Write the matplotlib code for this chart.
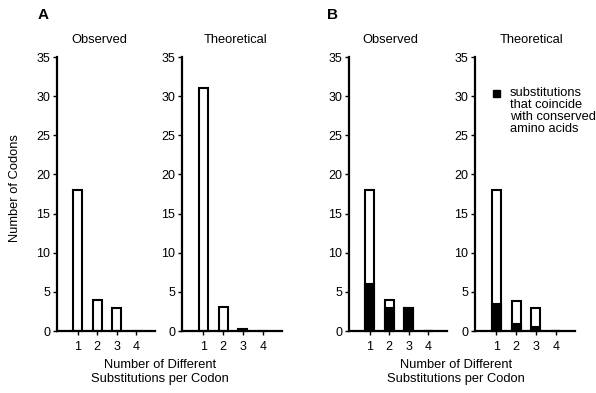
import matplotlib
matplotlib.use("Agg")
import matplotlib.pyplot as plt
from matplotlib.patches import Rectangle

plt.rcParams["font.family"] = ["Liberation Sans", "DejaVu Sans"]

categories = [1, 2, 3, 4]
a_observed = [18, 3.9, 3.0, 0]
a_theoretical = [31, 3.1, 0.3, 0]
b_observed = [18, 3.9, 3.0, 0]
b_observed_conserved = [6, 3.0, 3.0, 0]
b_theoretical = [18, 3.8, 3.0, 0]
b_theoretical_conserved = [3.5, 0.85, 0.55, 0]
y_ticks = [0, 5, 10, 15, 20, 25, 30, 35]

W, H = 596, 393
BAR_W = 0.45
LW = 1.5
FS = 9.3


def px_axes(fig, left, right, top=57, bottom=331):
    return fig.add_axes([left / W, 1 - bottom / H, (right - left) / W, (bottom - top) / H])


def style(ax):
    ax.set_xlim(-0.06, 4.96)
    ax.set_ylim(0, 35)
    ax.set_xticks(categories)
    ax.set_yticks(y_ticks)
    for s in ["top", "right"]:
        ax.spines[s].set_visible(False)
    for s in ["left", "bottom"]:
        ax.spines[s].set_linewidth(1.6)
    ax.tick_params(axis="both", direction="out", length=3, width=1, labelsize=9, pad=2)
    ax.tick_params(axis="x", pad=4)


def bars(ax, totals, conserved=None):
    ax.bar(categories, totals, width=BAR_W, facecolor="white", edgecolor="black",
           linewidth=LW, zorder=2, clip_on=False)
    if conserved is not None:
        ax.bar(categories, conserved, width=BAR_W, facecolor="black", edgecolor="black",
               linewidth=LW, zorder=3, clip_on=False)


fig = plt.figure(figsize=(W / 100, H / 100), dpi=100)

ax1 = px_axes(fig, 57, 155)
ax2 = px_axes(fig, 182, 282)
ax3 = px_axes(fig, 349, 447)
ax4 = px_axes(fig, 475, 575)

bars(ax1, a_observed)
bars(ax2, a_theoretical)
bars(ax3, b_observed, b_observed_conserved)
bars(ax4, b_theoretical, b_theoretical_conserved)

for ax in [ax1, ax2, ax3, ax4]:
    style(ax)

# panel titles
for x, t in [(99, "Observed"), (235, "Theoretical"), (390, "Observed"), (531, "Theoretical")]:
    fig.text(x / W, 1 - 40 / H, t, ha="center", va="center", fontsize=FS)

fig.text(43 / W, 1 - 15 / H, "A", ha="center", va="center", fontsize=11, fontweight="bold")
fig.text(332 / W, 1 - 15 / H, "B", ha="center", va="center", fontsize=11, fontweight="bold")

fig.text(15 / W, 1 - 188 / H, "Number of Codons", rotation=90, ha="center", va="center",
         fontsize=FS)
for x in [160, 456]:
    fig.text(x / W, 1 - 372 / H, "Number of Different\nSubstitutions per Codon",
             ha="center", va="center", fontsize=FS, linespacing=1.15)

# legend
fig.patches.append(Rectangle((493 / W, 1 - 97 / H), 7 / W, 7 / H, transform=fig.transFigure,
                             facecolor="black", edgecolor="black"))
fig.text(510 / W, 1 - 87 / H, "substitutions\nthat coincide\nwith conserved\namino acids",
         ha="left", va="top", fontsize=FS, linespacing=1.0)

fig.savefig("out.png", dpi=100)
